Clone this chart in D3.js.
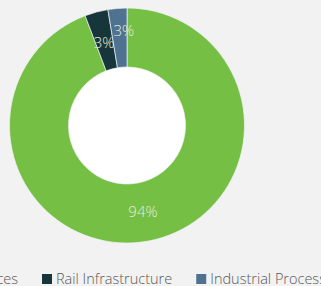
<!DOCTYPE html>
<html>
<head>
<style>
  body { margin: 0; background: #f2f2f2; }
  svg { display: block; }
</style>
</head>
<body>
<svg width="321" height="286"></svg>
<script src="https://d3js.org/d3.v7.min.js"></script>
<script>

const categories = ["Energy Services", "Rail Infrastructure", "Industrial Process"];
const values = [94.2, 3.2, 2.6];
const labels = ["94%", "3%", "3%"];
const colors = ["#74bf44", "#17363b", "#4e7290"];

const svg = d3.select("svg");
const cx = 127, cy = 125.5;
const outerR = 117.5, innerR = 58.5;

const pie = d3.pie().sort(null).value(d => d.value);
const arcs = pie(categories.map((c, i) => ({ name: c, value: values[i], label: labels[i], color: colors[i] })));

const arc = d3.arc().innerRadius(innerR).outerRadius(outerR);

const g = svg.append("g").attr("transform", `translate(${cx},${cy})`);

g.append("circle")
  .attr("r", innerR)
  .attr("fill", "#ffffff");

g.selectAll("path")
  .data(arcs)
  .enter()
  .append("path")
  .attr("d", arc)
  .attr("fill", d => d.data.color)
  .attr("stroke", "#f2f2f2")
  .attr("stroke-width", 0.7);

// the last (small) slice gets its label nudged up a bit
g.selectAll("text.lbl")
  .data(arcs)
  .enter()
  .append("text")
  .attr("class", "lbl")
  .attr("transform", function(d, i) {
    const c = arc.centroid(d);
    if (i === 2) {
      return `translate(${c[0] + 4},${c[1] - 7})`;
    }
    if (i === 1) {
      return `translate(${c[0]},${c[1] + 2})`;
    }
    return `translate(${c[0]},${c[1]})`;
  })
  .attr("text-anchor", "middle")
  .attr("dy", "0.35em")
  .attr("font-family", "'Open Sans', sans-serif")
  .attr("font-weight", 300)
  .attr("font-size", 15)
  .attr("fill", "#e4eedc")
  .text(d => d.data.label);

// legend, laid out from the second item's marker position
const legendY = 279;
const legend = svg.append("g");
const items = legend.selectAll("g")
  .data(arcs)
  .enter()
  .append("g");

items.append("rect")
  .attr("width", 10)
  .attr("height", 10)
  .attr("y", legendY - 5)
  .attr("fill", d => d.data.color);

items.append("text")
  .attr("x", 14)
  .attr("y", legendY)
  .attr("dy", "0.35em")
  .attr("font-family", "'Open Sans', sans-serif")
  .attr("font-weight", 300)
  .attr("font-size", 14.5)
  .attr("fill", "#595959")
  .text(d => d.data.name);

const widths = [];
items.each(function() {
  widths.push(this.querySelector("text").getComputedTextLength() + 14);
});
const gap = 24;
const xs = [];
xs[1] = 42;
xs[0] = xs[1] - gap - widths[0];
xs[2] = xs[1] + widths[1] + gap;
items.attr("transform", (d, i) => `translate(${xs[i]},0)`);

</script>
</body>
</html>
